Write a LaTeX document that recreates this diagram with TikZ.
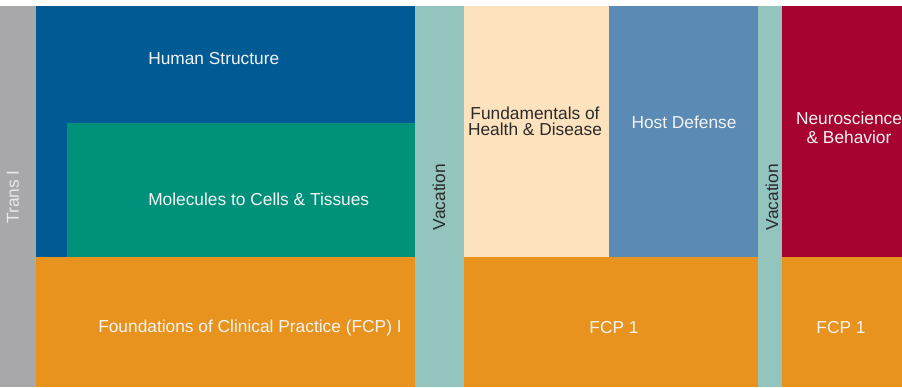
\documentclass[tikz,border=0pt]{standalone}
\usepackage{fontspec}
\setmainfont{Liberation Sans}
\definecolor{transgray}{HTML}{A8A8AA}
\definecolor{hsblue}{HTML}{005A94}
\definecolor{molteal}{HTML}{00917A}
\definecolor{fcporange}{HTML}{E8931E}
\definecolor{vacteal}{HTML}{93C5BE}
\definecolor{fundbeige}{HTML}{FDE2BE}
\definecolor{hostblue}{HTML}{5B8AB4}
\definecolor{neured}{HTML}{A60330}
\definecolor{darktext}{HTML}{2A2A2A}
\definecolor{lighttext}{HTML}{F4F4F4}
\begin{document}
\begin{tikzpicture}[x=0.75pt,y=-0.75pt,
  lbl/.style={font=\fontsize{13}{14}\selectfont, inner sep=0pt, text=lighttext},
  dlbl/.style={lbl, text=darktext},
  vlbl/.style={dlbl, rotate=90},
  two/.style={align=center}]
\useasboundingbox (0,0) rectangle (902,387);
\fill[white] (0,0) rectangle (902,387);
% blocks
\fill[transgray] (0,6) rectangle (36,387);
\fill[hsblue] (36,6) rectangle (415,257);
\fill[molteal] (67,123) rectangle (415,257);
\fill[fcporange] (36,257) rectangle (415,387);
\fill[vacteal] (415,6) rectangle (464,387);
\fill[fundbeige] (464,6) rectangle (609,257);
\fill[hostblue] (609,6) rectangle (758,257);
\fill[fcporange] (464,257) rectangle (758,387);
\fill[vacteal] (758,6) rectangle (782,387);
\fill[neured] (782,6) rectangle (902,257);
\fill[fcporange] (782,257) rectangle (902,387);
% labels
\node[lbl, rotate=90, text=lighttext!85!transgray] (trans) at (13,197) {Trans I};
\node[lbl, anchor=west] (hs) at (148,59) {Human Structure};
\node[lbl, anchor=west] (mol) at (148,199) {Molecules to Cells \& Tissues};
\node[lbl, anchor=west] (fcp) at (98,328) {Foundations of Clinical Practice (FCP) I};
\node[vlbl] (vac1) at (439,197) {Vacation};
\node[dlbl, two, font=\fontsize{13}{12.3}\selectfont] (fund) at (535,121) {Fundamentals of\\Health \& Disease};
\node[lbl] (host) at (684,122) {Host Defense};
\node[vlbl] (vac2) at (772,197) {Vacation};
\node[lbl, two, font=\fontsize{13}{14.3}\selectfont] (neuro) at (849,128) {Neuroscience\\\& Behavior};
\node[lbl] (fcp1a) at (614,328) {FCP 1};
\node[lbl] (fcp1b) at (841,328) {FCP 1};
\end{tikzpicture}
\end{document}
